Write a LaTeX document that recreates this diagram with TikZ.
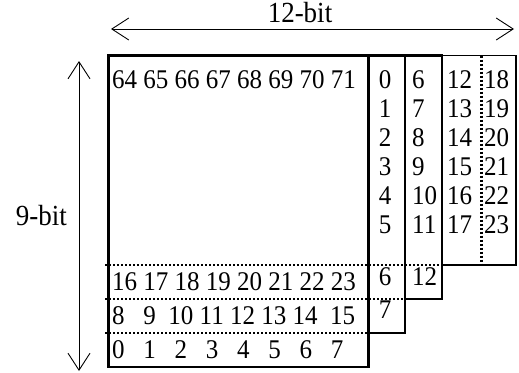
\documentclass[tikz,border=0pt]{standalone}
\usepackage{fontspec}
\setmainfont{Liberation Serif}
\usetikzlibrary{arrows.meta}
\newcommand{\vstretch}[1]{\scalebox{1}[1.08]{#1}}
\begin{document}
\begin{tikzpicture}[x=1pt,y=-1pt,
  num/.style={inner sep=0pt, anchor=base west, font=\fontsize{25}{30}\selectfont},
  cnum/.style={inner sep=0pt, anchor=base, font=\fontsize{25}{30}\selectfont},
  lbl/.style={inner sep=0pt, font=\fontsize{27}{32}\selectfont},
  thickbox/.style={line width=2.8pt},
  thinbox/.style={line width=1.6pt},
  dots/.style={line width=2.2pt, dash pattern=on 2.2pt off 1.8pt},
  dim/.style={line width=0.9pt, {Straight Barb[length=17pt,width=22pt]}-{Straight Barb[length=17pt,width=22pt]}}
]
\useasboundingbox (0,0) rectangle (519,372);
% dimension arrows
\coordinate (hl) at (111,29);
\coordinate (hr) at (514,29);
\coordinate (vt) at (79,61);
\coordinate (vb) at (79,371);
\draw[dim] (hl) -- (hr);
\draw[dim] (vt) -- (vb);
\node[lbl, anchor=base] (lw) at (300,22.5) {\vstretch{12-bit}};
\node[lbl, anchor=base east] (lh) at (67,225) {\vstretch{9-bit}};
% dotted separators
\draw[dots] (105,265) -- (442,265);
\draw[dots] (105,299) -- (405,299);
\draw[dots] (105,333) -- (368,333);
\draw[dots] (481.5,55.5) -- (481.5,265);
% boxes
\draw[thinbox] (442,55.5) rectangle (516,265);
\draw[thickbox] (405,55.5) rectangle (442,299);
\draw[thickbox] (368.5,55.5) rectangle (405,333);
\draw[thickbox] (108.5,55.5) rectangle (368.5,367);
% main box rows
\node[num] (r64) at (112,88) {\vstretch{64 65 66 67 68 69 70 71}};
\node[num] (r16) at (112,290) {\vstretch{16 17 18 19 20 21 22 23}};
\node[num] (r8) at (112,324) {\vstretch{8\ \ \ 9\ \ 10 11 12 13 14\ \ 15}};
\node[num] (r0) at (112,358) {\vstretch{0\ \ \ 1\ \ \ 2\ \ \ 3\ \ \ 4\ \ \ 5\ \ \ 6\ \ \ 7}};
% box 2 column
\foreach \v [count=\i from 0] in {0,1,2,3,4,5}
  \node[cnum] (a\v) at (385,88+29*\i) {\vstretch{\v}};
\node[cnum] (a6) at (385,285) {\vstretch{6}};
\node[cnum] (a7) at (385,318) {\vstretch{7}};
% box 3 column
\foreach \v [count=\i from 0] in {6,7,8,9,10,11}
  \node[num] (b\v) at (412,88+29*\i) {\vstretch{\v}};
\node[num] (b12) at (412,285) {\vstretch{12}};
% box 4 columns
\foreach \v [count=\i from 0] in {12,13,14,15,16,17}
  \node[num] (c\v) at (447,88+29*\i) {\vstretch{\v}};
\foreach \v [count=\i from 0] in {18,19,20,21,22,23}
  \node[num] (d\v) at (484,88+29*\i) {\vstretch{\v}};
\end{tikzpicture}
\end{document}
